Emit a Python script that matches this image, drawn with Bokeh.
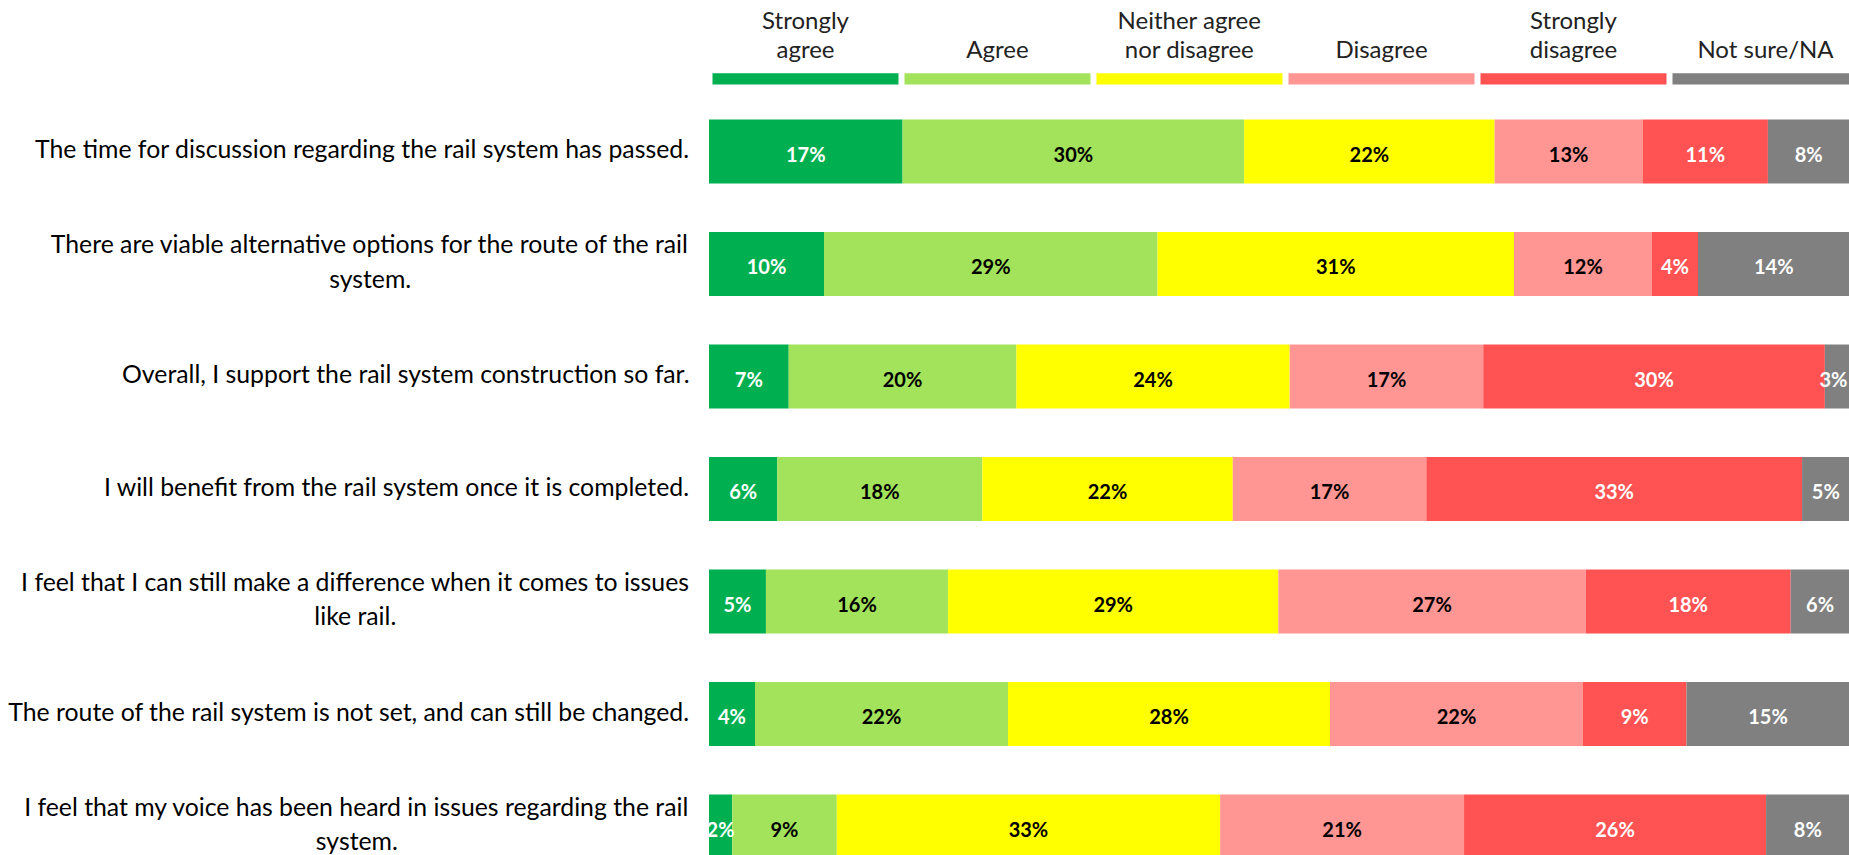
from bokeh.plotting import figure
from bokeh.models import ColumnDataSource, Range1d
from bokeh.core.properties import value
from bokeh.embed import file_html
from bokeh.resources import INLINE

# ---------------- data ----------------
statements = [
    "The time for discussion regarding the rail system has passed.",
    "There are viable alternative options for the route of the rail\nsystem.",
    "Overall, I support the rail system construction so far.",
    "I will benefit from the rail system once it is completed.",
    "I feel that I can still make a difference when it comes to issues\nlike rail.",
    "The route of the rail system is not set, and can still be changed.",
    "I feel that my voice has been heard in issues regarding the rail\nsystem.",
]
responses = ["Strongly\nagree", "Agree", "Neither agree\nnor disagree",
             "Disagree", "Strongly\ndisagree", "Not sure/NA"]

strongly_agree = [17, 10, 7, 6, 5, 4, 2]
agree = [30, 29, 20, 18, 16, 22, 9]
neither = [22, 31, 24, 22, 29, 28, 33]
disagree = [13, 12, 17, 17, 27, 22, 21]
strongly_disagree = [11, 4, 30, 33, 18, 9, 26]
not_sure = [8, 14, 3, 5, 6, 15, 8]

colors = ["#00B050", "#A2E35B", "#FFFF00", "#FF9693", "#FF5353", "#808080"]
label_colors = ["white", "black", "black", "black", "white", "white"]

# ---------------- geometry (page pixels -> data) ----------------
W, H = 1849, 855
PX_PER_PCT = 11.5
X0_PAGE = 708.5
ROW_PX = 112.5
ROW0_PAGE = 151.0


def px_x(page_x):
    return (page_x - X0_PAGE) / PX_PER_PCT


def px_y(page_y):
    return (page_y - ROW0_PAGE) / ROW_PX


X_END = px_x(W)
LABEL_HALF = 16.0 / PX_PER_PCT   # keep value labels inside the visible frame

p = figure(width=W, height=H, output_backend="svg", toolbar_location=None,
           x_axis_type=None, y_axis_type=None,
           x_range=Range1d(px_x(0), X_END),
           y_range=Range1d(px_y(H), px_y(0)),
           min_border_left=0, min_border_right=0, min_border_top=0, min_border_bottom=0)
p.outline_line_color = None
p.xgrid.visible = False
p.ygrid.visible = False
p.background_fill_color = "white"
p.border_fill_color = "white"

series = [strongly_agree, agree, neither, disagree, strongly_disagree, not_sure]

ys, lefts, rights, cols, labs, lcols, mids = [], [], [], [], [], [], []
for i in range(len(statements)):
    vals = [s[i] for s in series]
    total = float(sum(vals))
    cum = 0.0
    for k, v in enumerate(vals):
        left = cum * 100.0 / total
        cum += v
        right = cum * 100.0 / total
        ys.append(i)
        lefts.append(left)
        rights.append(right)
        cols.append(colors[k])
        labs.append(f"{v}%")
        lcols.append(label_colors[k])
        # label centred on the visible part of the segment
        mids.append(min((left + min(right, X_END)) / 2, X_END - LABEL_HALF))

src = ColumnDataSource(dict(y=ys, left=lefts, right=rights, color=cols,
                            label=labs, lcolor=lcols, mid=mids))
BAR_H = 64 / ROW_PX
p.hbar(y="y", left="left", right="right", height=BAR_H, fill_color="color",
       line_color=None, source=src)
p.text(x="mid", y="y", text="label", text_color="lcolor", source=src,
       text_align="center", text_baseline="middle",
       text_font=value("Lato"), text_font_style="bold", text_font_size="20px",
       y_offset=2)

# category labels
cat_src = ColumnDataSource(dict(x=[px_x(689)] * len(statements),
                                y=list(range(len(statements))),
                                text=statements))
p.text(x="x", y="y", text="text", source=cat_src,
       anchor="center_right", text_align="center", text_baseline="alphabetic",
       text_line_height=1.2, y_offset=-3,
       text_font=value("Lato"), text_font_size="24.8px", text_color="#000000")

# legend header
slot = 192.0 / PX_PER_PCT
leg_left = [px_x(712) + k * slot for k in range(len(responses))]
leg_right = [l + 186.0 / PX_PER_PCT for l in leg_left]
leg_src = ColumnDataSource(dict(left=leg_left, right=leg_right,
                                mid=[(a + b) / 2 for a, b in zip(leg_left, leg_right)],
                                color=colors, text=responses,
                                y=[px_y(78.4)] * len(responses),
                                ty=[px_y(62)] * len(responses)))
p.hbar(y="y", left="left", right="right", height=11.3 / ROW_PX,
       fill_color="color", line_color=None, source=leg_src)
p.text(x="mid", y="ty", text="text", source=leg_src,
       anchor="bottom_center", text_align="center", text_baseline="alphabetic",
       text_line_height=1.0,
       text_font=value("Lato"), text_font_size="24px", text_color="#222222")

open("out.html", "w").write(file_html(p, INLINE))
